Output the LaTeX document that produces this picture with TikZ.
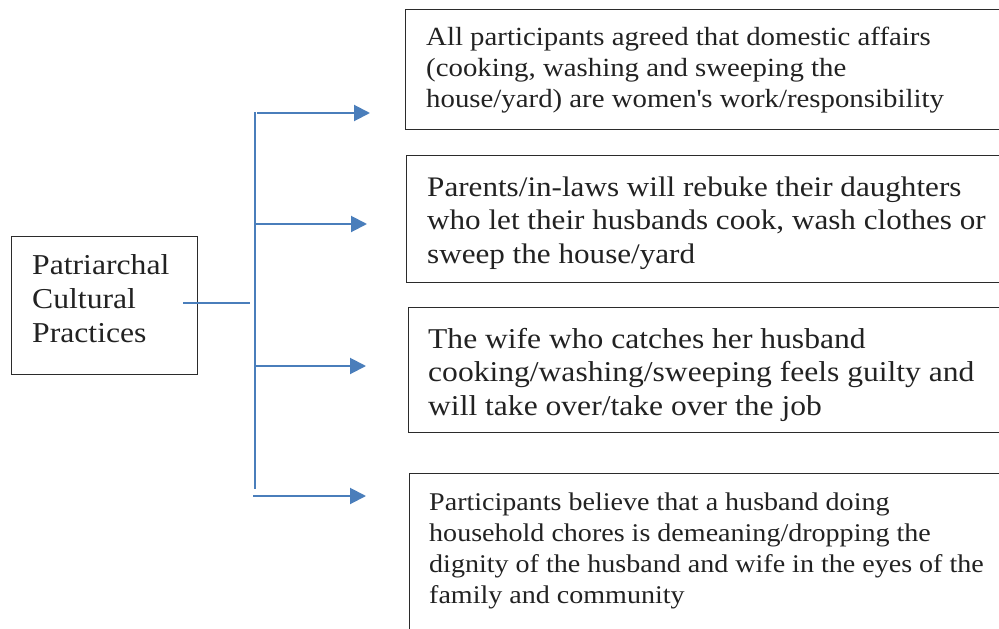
\documentclass[tikz,border=0pt]{standalone}
\usepackage{fontspec}
\setmainfont{Liberation Serif}[FakeStretch=1.1]
\usetikzlibrary{arrows.meta}
\definecolor{arr}{HTML}{4A7EBB}
\definecolor{bd}{HTML}{2B2B2B}
\definecolor{txt}{HTML}{222222}
\begin{document}
\begin{tikzpicture}[x=1pt,y=-1pt,
  box/.style={draw=bd,line width=1.2pt,anchor=north west,inner sep=0pt},
  lbl/.style={anchor=north west,align=left,inner sep=0pt,text=txt},
  font1/.style={font=\fontsize{26.2}{31}\selectfont},
  font2/.style={font=\fontsize{28.3}{33.5}\selectfont},
  font3/.style={font=\fontsize{28.7}{33.5}\selectfont},
  font4/.style={font=\fontsize{25.5}{31}\selectfont},
  leftfont/.style={font=\fontsize{28.8}{34}\selectfont},
  link/.style={draw=arr,line width=2pt},
  arrowlink/.style={link,-{Triangle[length=16pt,width=16pt]}}]
\useasboundingbox (0,0) rectangle (999,629);
\clip (0,0) rectangle (999,629);
\fill[white] (0,0) rectangle (999,629);

% left box
\node[box,minimum width=186pt,minimum height=138pt] (src) at (11,236) {};
\node[lbl,leftfont] (srct) at (32,254) {Patriarchal\\Cultural\\Practices};

% right boxes
\node[box,minimum width=600pt,minimum height=120pt] (b1) at (405,9) {};
\node[lbl,font1] (t1) at (426,27) {All participants agreed that domestic affairs\\(cooking, washing and sweeping the\\house/yard) are women\textquotesingle s work/responsibility};

\node[box,minimum width=600pt,minimum height=127pt] (b2) at (406,155) {};
\node[lbl,font2] (t2) at (427,176.5) {Parents/in-laws will rebuke their daughters\\who let their husbands cook, wash clothes or\\sweep the house/yard};

\node[box,minimum width=600pt,minimum height=125pt] (b3) at (408,307) {};
\node[lbl,font3] (t3) at (428,328) {The wife who catches her husband\\cooking/washing/sweeping feels guilty and\\will take over/take over the job};

\node[box,minimum width=600pt,minimum height=200pt] (b4) at (409,473) {};
\node[lbl,font4] (t4) at (429,492.5) {Participants believe that a husband doing\\household chores is demeaning/dropping the\\dignity of the husband and wife in the eyes of the\\family and community};

% connectors
\coordinate (h0) at (183,303);
\coordinate (h1) at (250,303);
\coordinate (vt) at (255,112);
\coordinate (vb) at (255,489);
\coordinate (s1) at (257,113);
\coordinate (e1) at (370,113);
\coordinate (s2) at (255,224);
\coordinate (e2) at (367,224);
\coordinate (s3) at (255,366);
\coordinate (e3) at (366,366);
\coordinate (s4) at (253,496);
\coordinate (e4) at (366,496);

\draw[link] (h0) -- (h1);
\draw[link] (vt) -- (vb);
\draw[arrowlink] (s1) -- (e1);
\draw[arrowlink] (s2) -- (e2);
\draw[arrowlink] (s3) -- (e3);
\draw[arrowlink] (s4) -- (e4);
\end{tikzpicture}
\end{document}
